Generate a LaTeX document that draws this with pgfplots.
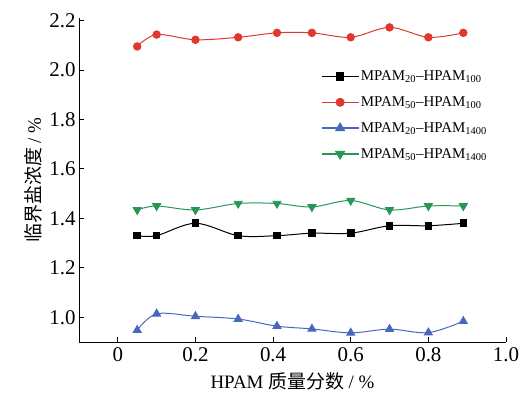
\documentclass[border=0pt]{standalone}
\usepackage{fontspec}
\setmainfont{Liberation Serif}
\newfontfamily\cjk{Noto Sans CJK SC}
\usepackage{pgfplots}
\pgfplotsset{compat=1.18}
\definecolor{cred}{RGB}{225,55,45}
\definecolor{cblue}{RGB}{70,105,190}
\definecolor{cgreen}{RGB}{40,150,85}
\begin{document}
\begin{tikzpicture}[x=1bp,y=1bp]
\begin{axis}[
  at={(0,0)}, anchor=south west, scale only axis,
  width=427bp, height=324bp,
  xmin=-0.1, xmax=1.0, ymin=0.9, ymax=2.21,
  axis x line=bottom, axis y line=left,
  axis line style={-, line width=0.8pt},
  tick style={line width=0.8pt, black},
  tick align=inside, major tick length=5bp,
  xtick={0,0.2,0.4,0.6,0.8,1.0},
  xticklabels={0,0.2,0.4,0.6,0.8,1.0},
  ytick={1.0,1.2,1.4,1.6,1.8,2.0,2.2},
  yticklabel style={/pgf/number format/.cd, fixed, fixed zerofill, precision=1},
  /pgf/number format/assume math mode=true,
  ticklabel style={font=\fontsize{21}{21}\selectfont},
  xticklabel style={yshift=-2bp},
  xlabel={HPAM {\cjk 质量分数} / \%},
  ylabel={{\cjk 临界盐浓度} / \%},
  label style={font=\fontsize{19}{19}\selectfont},
  xlabel style={yshift=-4bp},
  legend style={at={(0.56,0.85)}, anchor=north west, draw=none, fill=none,
    font=\fontsize{15}{15}\selectfont, row sep=10.5bp, cells={anchor=west}},
  legend image code/.code={\draw[line width=1.6pt, mark repeat=2,mark phase=2] plot coordinates {(0bp,0bp) (18bp,0bp) (36bp,0bp)};},
  every axis plot/.append style={line width=1pt, smooth, tension=0.55},
]
\addplot[black, mark=square*, mark size=3.3bp] coordinates {
(0.05,1.33) (0.1,1.33) (0.2,1.38) (0.31,1.33) (0.41,1.33) (0.5,1.34) (0.6,1.34) (0.7,1.37) (0.8,1.37) (0.89,1.38)};
\addlegendentry{MPAM\textsubscript{20}–HPAM\textsubscript{100}}
\addplot[cred, mark=*, mark size=3.7bp] coordinates {
(0.05,2.095) (0.1,2.143) (0.2,2.122) (0.31,2.132) (0.41,2.15) (0.5,2.15) (0.6,2.132) (0.7,2.172) (0.8,2.132) (0.89,2.15)};
\addlegendentry{MPAM\textsubscript{50}–HPAM\textsubscript{100}}
\addplot[cblue, mark=triangle*, mark size=4.5bp] coordinates {
(0.05,0.948) (0.1,1.014) (0.2,1.004) (0.31,0.993) (0.41,0.964) (0.5,0.953) (0.6,0.937) (0.7,0.952) (0.8,0.938) (0.89,0.984)};
\addlegendentry{MPAM\textsubscript{20}–HPAM\textsubscript{1400}}
\addplot[cgreen, mark=triangle*, mark options={rotate=180}, mark size=4.5bp] coordinates {
(0.05,1.434) (0.1,1.45) (0.2,1.434) (0.31,1.46) (0.41,1.46) (0.5,1.446) (0.6,1.472) (0.7,1.434) (0.8,1.45) (0.89,1.45)};
\addlegendentry{MPAM\textsubscript{50}–HPAM\textsubscript{1400}}
\end{axis}
\pgfresetboundingbox
\path[use as bounding box] (-79,-58) rectangle (452,342);
\end{tikzpicture}
\end{document}
